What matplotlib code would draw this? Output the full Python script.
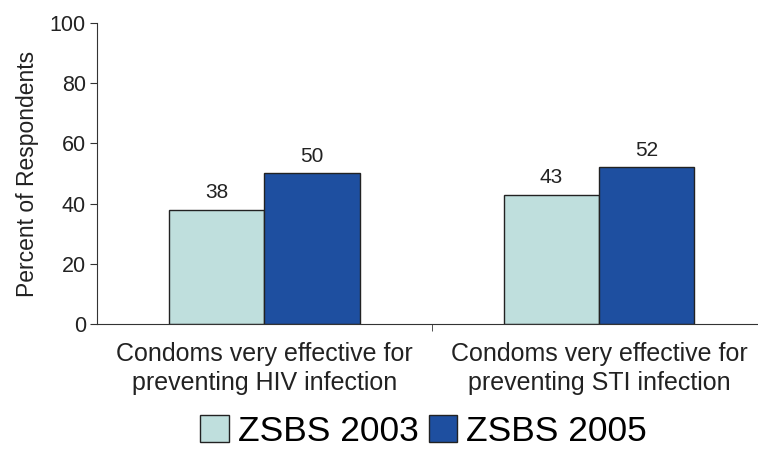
import numpy as np
import matplotlib.pyplot as plt

plt.rcParams['font.family'] = ['Liberation Sans', 'DejaVu Sans']

categories = ["Condoms very effective for\npreventing HIV infection",
              "Condoms very effective for\npreventing STI infection"]
series = ["ZSBS 2003", "ZSBS 2005"]
values_2003 = [38, 43]
values_2005 = [50, 52]
colors = ["#bfdfdd", "#1e4fa0"]

fig = plt.figure(figsize=(7.58, 4.5), dpi=100)
ax = fig.add_axes([0.128, 0.28, 0.883, 0.669])

x = np.arange(len(categories))
w = 0.285
b1 = ax.bar(x - w / 2, values_2003, w, color=colors[0], edgecolor="#222222", linewidth=1, label=series[0])
b2 = ax.bar(x + w / 2, values_2005, w, color=colors[1], edgecolor="#222222", linewidth=1, label=series[1])

for bars in (b1, b2):
    for r in bars:
        ax.text(r.get_x() + r.get_width() / 2, r.get_height() + 2.5, f"{r.get_height():.0f}",
                ha="center", va="bottom", fontsize=15, color="#222222")

ax.set_xlim(-0.5, 1.5)
ax.set_ylim(0, 100)
ax.set_yticks(range(0, 101, 20))
ax.set_xticks(x)
ax.set_xticklabels(categories, fontsize=18, color="#222222", linespacing=1.25)
ax.set_xticks([0.5], minor=True)
ax.tick_params(axis="x", which="major", length=0, pad=13)
ax.tick_params(axis="x", which="minor", length=5, color="#333333")
ax.tick_params(axis="y", length=5, labelsize=15.5, color="#333333", labelcolor="#222222", pad=3)
ax.set_ylabel("Percent of Respondents", fontsize=16.5, color="#222222", labelpad=8)

for s in ("top", "right"):
    ax.spines[s].set_visible(False)
for s in ("left", "bottom"):
    ax.spines[s].set_color("#333333")

fig.legend(handles=[b1, b2], labels=series, loc="center", bbox_to_anchor=(0.559, 0.042),
           ncol=2, frameon=False, fontsize=25.5, handlelength=0.8, handleheight=0.8,
           handletextpad=0.25, columnspacing=0.3, borderaxespad=0, borderpad=0)

fig.savefig("out.png", dpi=100)
